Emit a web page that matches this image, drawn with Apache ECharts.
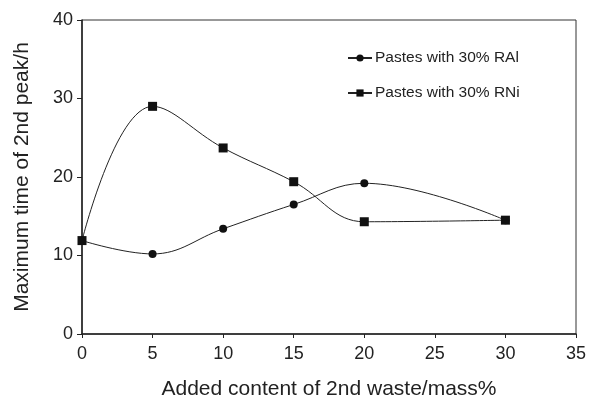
<!DOCTYPE html>
<html><head><meta charset="utf-8">
<script src="https://cdn.jsdelivr.net/npm/echarts@6/dist/echarts.min.js"></script>
<style>html,body{margin:0;padding:0;background:#fff}#c{width:594px;height:397px}</style>
</head><body><div id="c"></div>
<script>
const xValues = [0, 5, 10, 15, 20, 30];
const ralValues = [11.9, 10.2, 13.4, 16.5, 19.2, 14.5];
const rniValues = [11.9, 29.0, 23.7, 19.4, 14.3, 14.5];
const seriesNames = ['Pastes with 30% RAl', 'Pastes with 30% RNi'];
const xTitle = 'Added content of 2nd waste/mass%';
const yTitle = 'Maximum time of 2nd peak/h';

const pair = (xs, ys) => xs.map((x, i) => [x, ys[i]]);
const font = 'Liberation Sans, Arial, sans-serif';
const chart = echarts.init(document.getElementById('c'));
chart.setOption({
  animation: false,
  grid: { left: 82, top: 20, right: 18, bottom: 63, show: true, borderColor: '#333', borderWidth: 1,
          containLabel: false, outerBoundsMode: 'none' },
  legend: {
    orient: 'vertical', left: 342, top: 45, itemGap: 19, itemWidth: 24, itemHeight: 9,
    textStyle: { fontFamily: font, fontSize: 15.5, color: '#222', padding: [0, 0, 0, -2] },
    data: seriesNames
  },
  xAxis: {
    type: 'value', min: 0, max: 35, interval: 5,
    name: xTitle, nameLocation: 'middle', nameGap: 45,
    nameTextStyle: { fontFamily: font, fontSize: 21, color: '#222' },
    axisLine: { lineStyle: { color: '#222', width: 1.5 } },
    axisTick: { show: true, length: 4, lineStyle: { color: '#222' } },
    axisLabel: { fontFamily: font, fontSize: 18, color: '#222', margin: 11 },
    splitLine: { show: false }
  },
  yAxis: {
    type: 'value', min: 0, max: 40, interval: 10,
    name: yTitle, nameLocation: 'middle', nameGap: 49,
    nameTextStyle: { fontFamily: font, fontSize: 21, color: '#222' },
    axisLine: { show: true, lineStyle: { color: '#222', width: 1.5 } },
    axisTick: { show: true, length: 5, lineStyle: { color: '#222' } },
    axisLabel: { fontFamily: font, fontSize: 18, color: '#222', margin: 9 },
    splitLine: { show: false }
  },
  series: [
    {
      name: seriesNames[0], type: 'line', data: pair(xValues, ralValues), smooth: 0.4,
      symbol: 'circle', symbolSize: 8,
      lineStyle: { color: '#222', width: 1 }, itemStyle: { color: '#111' }
    },
    {
      name: seriesNames[1], type: 'line', data: pair(xValues, rniValues), smooth: 0.4,
      symbol: 'rect', symbolSize: 9,
      lineStyle: { color: '#222', width: 1 }, itemStyle: { color: '#111' }
    }
  ]
});
</script></body></html>
